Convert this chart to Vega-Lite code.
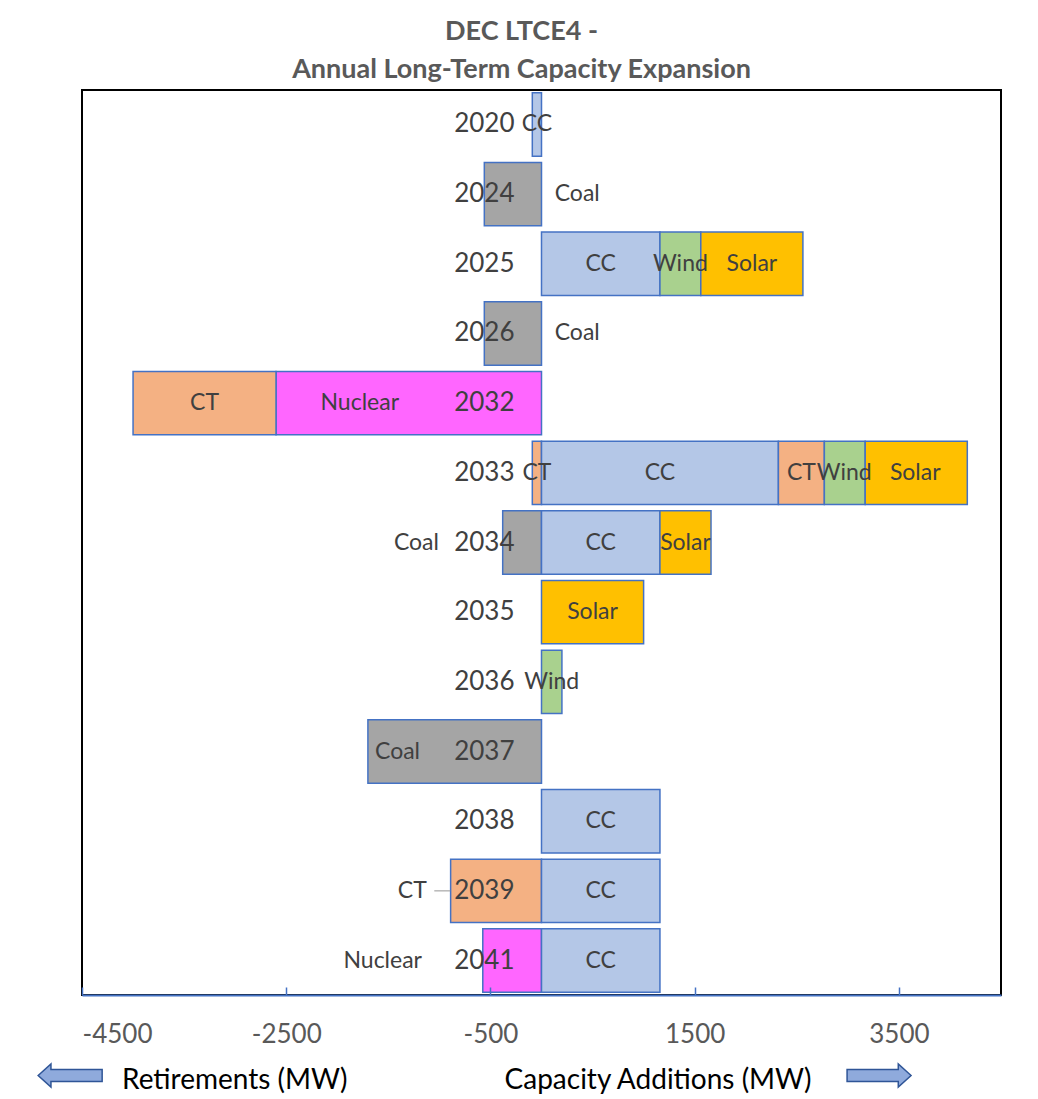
{
  "$schema": "https://vega.github.io/schema/vega-lite/v6.json",
  "width": 919,
  "height": 905,
  "autosize": {"type": "none"},
  "padding": {"left": 82, "top": 90, "right": 37, "bottom": 104},
  "background": "white",
  "title": {
    "text": ["DEC LTCE4 -", "Annual Long-Term Capacity Expansion"],
    "font": "Lato",
    "fontSize": 27,
    "fontWeight": "bold",
    "color": "#595959",
    "lineHeight": 38,
    "offset": 6,
    "dx": -20,
    "anchor": "middle"
  },
  "config": {
    "view": {"stroke": "black", "strokeWidth": 2},
    "font": "Lato"
  },
  "datasets": {
    "capacity": [
      {"year": "2020", "tech": "CC", "mw": -90},
      {"year": "2024", "tech": "Coal", "mw": -560},
      {"year": "2025", "tech": "CC", "mw": 1160},
      {"year": "2025", "tech": "Wind", "mw": 400},
      {"year": "2025", "tech": "Solar", "mw": 1000},
      {"year": "2026", "tech": "Coal", "mw": -560},
      {"year": "2032", "tech": "Nuclear", "mw": -2600},
      {"year": "2032", "tech": "CT", "mw": -1400},
      {"year": "2033", "tech": "CT", "mw": -90},
      {"year": "2033", "tech": "CC", "mw": 2320},
      {"year": "2033", "tech": "CT", "mw": 450},
      {"year": "2033", "tech": "Wind", "mw": 400},
      {"year": "2033", "tech": "Solar", "mw": 1000},
      {"year": "2034", "tech": "Coal", "mw": -380},
      {"year": "2034", "tech": "CC", "mw": 1160},
      {"year": "2034", "tech": "Solar", "mw": 500},
      {"year": "2035", "tech": "Solar", "mw": 1000},
      {"year": "2036", "tech": "Wind", "mw": 200},
      {"year": "2037", "tech": "Coal", "mw": -1700},
      {"year": "2038", "tech": "CC", "mw": 1160},
      {"year": "2039", "tech": "CT", "mw": -890},
      {"year": "2039", "tech": "CC", "mw": 1160},
      {"year": "2041", "tech": "Nuclear", "mw": -575},
      {"year": "2041", "tech": "CC", "mw": 1160}
    ],
    "segment_labels": [
      {"year": "2020", "text": "CC", "at": -45},
      {"year": "2024", "text": "Coal", "at": 350},
      {"year": "2025", "text": "CC", "at": 580},
      {"year": "2025", "text": "Wind", "at": 1360},
      {"year": "2025", "text": "Solar", "at": 2060},
      {"year": "2026", "text": "Coal", "at": 350},
      {"year": "2032", "text": "CT", "at": -3300},
      {"year": "2032", "text": "Nuclear", "at": -1780},
      {"year": "2033", "text": "CT", "at": -45},
      {"year": "2033", "text": "CC", "at": 1160},
      {"year": "2033", "text": "CT", "at": 2545},
      {"year": "2033", "text": "Wind", "at": 2965},
      {"year": "2033", "text": "Solar", "at": 3660},
      {"year": "2034", "text": "Coal", "at": -1225},
      {"year": "2034", "text": "CC", "at": 580},
      {"year": "2034", "text": "Solar", "at": 1410},
      {"year": "2035", "text": "Solar", "at": 500},
      {"year": "2036", "text": "Wind", "at": 100},
      {"year": "2037", "text": "Coal", "at": -1410},
      {"year": "2038", "text": "CC", "at": 580},
      {"year": "2039", "text": "CT", "at": -1265},
      {"year": "2039", "text": "CC", "at": 580},
      {"year": "2041", "text": "Nuclear", "at": -1555},
      {"year": "2041", "text": "CC", "at": 580}
    ],
    "leaders": [
      {"year": "2039", "from": -1050, "to": -895}
    ],
    "arrows": [
      {"dir": "left", "at": -4616},
      {"dir": "right", "at": 3306}
    ],
    "direction_notes": [
      {"text": "Retirements (MW)", "at": -4108},
      {"text": "Capacity Additions (MW)", "at": -362}
    ]
  },
  "layer": [
    {
      "layer": [
        {
          "data": {"name": "capacity"},
          "transform": [
            {"calculate": "indexof(['Nuclear','CC','CT','Wind','Solar','Coal'], datum.tech)", "as": "rank"},
            {"stack": "mw", "groupby": ["year"], "sort": [{"field": "rank", "order": "ascending"}], "as": ["x0", "x1"], "offset": "zero"}
          ],
          "mark": {"type": "bar", "stroke": "#4472C4", "strokeWidth": 1.5},
          "encoding": {
            "y": {"field": "year", "type": "nominal", "sort": "ascending", "axis": null,
                  "scale": {"paddingInner": 0.09, "paddingOuter": 0.04}},
            "x": {"field": "x0", "type": "quantitative",
                  "scale": {"domain": [-4500, 4500], "nice": false, "zero": false},
                  "axis": {
                    "values": [-4500, -2500, -500, 1500, 3500],
                    "labelExpr": "'' + datum.value",
                    "title": null,
                    "grid": false,
                    "domainColor": "#4472C4",
                    "domainWidth": 2,
                    "tickColor": "#4472C4",
                    "tickWidth": 1.5,
                    "tickSize": -8,
                    "labelPadding": 34,
                    "labelFont": "Lato",
                    "labelFontSize": 26,
                    "labelColor": "#595959",
                    "zindex": 1
                  }},
            "x2": {"field": "x1"},
            "color": {"field": "tech", "type": "nominal", "legend": null,
                      "scale": {"domain": ["CC", "CT", "Coal", "Nuclear", "Solar", "Wind"],
                                "range": ["#B4C7E7", "#F4B183", "#A5A5A5", "#FF66FF", "#FFC000", "#A9D18E"]}}
          }
        },
        {
          "mark": {"type": "rule", "color": "#4472C4", "strokeWidth": 2},
          "encoding": {"x": {"datum": 0, "type": "quantitative"}}
        },
        {
          "data": {"name": "leaders"},
          "mark": {"type": "rule", "color": "#A6A6A6", "strokeWidth": 1.2},
          "encoding": {
            "y": {"field": "year", "type": "nominal"},
            "x": {"field": "from", "type": "quantitative"},
            "x2": {"field": "to"}
          }
        },
        {
          "data": {"name": "capacity"},
          "transform": [{"aggregate": [{"op": "count", "as": "n"}], "groupby": ["year"]}],
          "mark": {"type": "text", "font": "Lato", "fontSize": 26, "color": "#404040", "align": "center", "baseline": "middle"},
          "encoding": {
            "y": {"field": "year", "type": "nominal"},
            "x": {"datum": -560, "type": "quantitative"},
            "text": {"field": "year"}
          }
        },
        {
          "data": {"name": "segment_labels"},
          "mark": {"type": "text", "font": "Lato", "fontSize": 23, "color": "#404040", "align": "center", "baseline": "middle"},
          "encoding": {
            "y": {"field": "year", "type": "nominal"},
            "x": {"field": "at", "type": "quantitative"},
            "text": {"field": "text"}
          }
        }
      ]
    },
    {
      "layer": [
        {
          "data": {"name": "arrows"},
          "mark": {"type": "point", "filled": true, "fill": "#8FAADC", "stroke": "#2F5597", "strokeWidth": 1.5, "opacity": 1, "size": 4096},
          "encoding": {
            "x": {"field": "at", "type": "quantitative"},
            "y": {"datum": -0.089, "type": "quantitative", "scale": {"domain": [0, 1]}, "axis": null},
            "shape": {"field": "dir", "type": "nominal", "legend": null,
                      "scale": {"domain": ["left", "right"],
                                "range": ["M-1,0L-0.6,-0.36L-0.6,-0.19L1,-0.19L1,0.19L-0.6,0.19L-0.6,0.36Z",
                                          "M1,0L0.6,-0.36L0.6,-0.19L-1,-0.19L-1,0.19L0.6,0.19L0.6,0.36Z"]}}
          }
        },
        {
          "data": {"name": "direction_notes"},
          "mark": {"type": "text", "font": "Lato", "fontSize": 28, "color": "#000000", "align": "left", "baseline": "middle"},
          "encoding": {
            "x": {"field": "at", "type": "quantitative"},
            "y": {"datum": -0.0945, "type": "quantitative", "scale": {"domain": [0, 1]}, "axis": null},
            "text": {"field": "text"}
          }
        }
      ]
    }
  ],
  "resolve": {"scale": {"y": "independent"}}
}
